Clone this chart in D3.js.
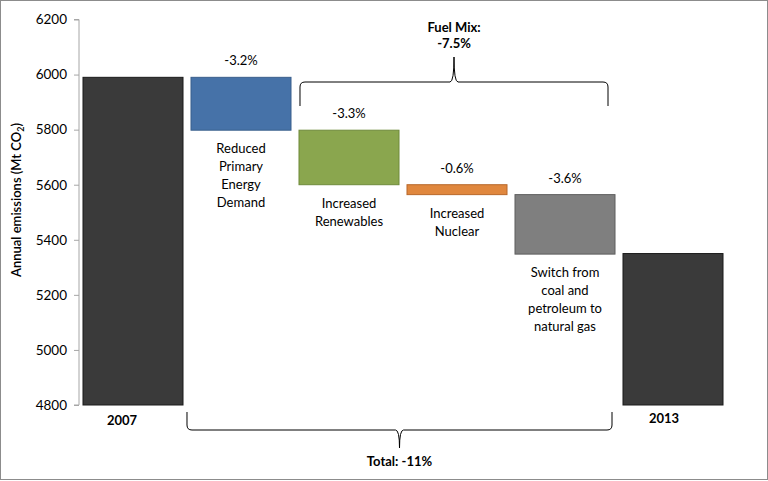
<!DOCTYPE html>
<html><head><meta charset="utf-8">
<script src="https://cdn.jsdelivr.net/npm/d3@7"></script>
<style>body{margin:0;background:#fff}svg{display:block}text{font-family:Lato,"Open Sans",sans-serif;fill:#000}</style>
</head><body>
<svg id="c" width="768" height="481"></svg>
<script>
const categories = ["2007","Reduced Primary Energy Demand","Increased Renewables","Increased Nuclear","Switch from coal and petroleum to natural gas","2013"];
const labelLines = [["2007"],["Reduced","Primary","Energy","Demand"],["Increased","Renewables"],["Increased","Nuclear"],["Switch from","coal and","petroleum to","natural gas"],["2013"]];
const barStart = [4800, 5990, 5798, 5600, 5564, 4800];
const barEnd   = [5990, 5798, 5600, 5564, 5348, 5350];
const pctLabels = ["", "-3.2%", "-3.3%", "-0.6%", "-3.6%", ""];
const colors = ["#3a3a3a","#4672a8","#8aa64e","#e0873e","#7f7f7f","#3a3a3a"];
const strokes = ["#1a1a1a","#3a5f8c","#6e8a3a","#b8672a","#5e5e5e","#1a1a1a"];
const yTicks = [4800,5000,5200,5400,5600,5800,6000,6200];
const fuelMixLabel = ["Fuel Mix:","-7.5%"];
const totalLabel = "Total: -11%";

const svg = d3.select("#c");
svg.append("rect").attr("x",0.5).attr("y",0.5).attr("width",767).attr("height",479).attr("fill","#fff").attr("stroke","#8c8c8c");

const y = d3.scaleLinear().domain([4800,6200]).range([405,19.5]);
const x = d3.scaleBand().domain(categories).range([79,727]).paddingInner(0.074).paddingOuter(0.037);

// axis
const ax = svg.append("g").attr("transform","translate(79,0)")
  .call(d3.axisLeft(y).tickValues(yTicks).tickSize(5).tickPadding(7).tickFormat(d3.format("d")));
ax.selectAll("path,line").attr("stroke","#a6a6a6");
ax.select(".domain").attr("d","M-5,"+y(6200)+"H0V"+y(4800)+"H-5");
ax.selectAll("text").style("font-family","Lato,sans-serif").style("font-size","13.5px").attr("fill","#000");

// y label
const yl = svg.append("text").attr("transform","translate(21,200) rotate(-90)").attr("text-anchor","middle")
  .style("font-size","13px").style("font-weight","600");
yl.append("tspan").text("Annual emissions (Mt CO");
yl.append("tspan").text("2").attr("dy",3).style("font-size","9px");
yl.append("tspan").text(")").attr("dy",-3);

// bars
categories.forEach((c,i)=>{
  const top = y(Math.max(barStart[i],barEnd[i])), bot = y(Math.min(barStart[i],barEnd[i]));
  svg.append("rect").attr("x",x(c)).attr("y",top).attr("width",x.bandwidth()).attr("height",bot-top)
    .attr("fill",colors[i]).attr("stroke",strokes[i]).attr("stroke-width",1);
  const cx = x(c)+x.bandwidth()/2;
  if (pctLabels[i]) {
    svg.append("text").attr("x",cx).attr("y",top-12).attr("text-anchor","middle").style("font-size","13px").text(pctLabels[i]);
  }
  if (i===0 || i===categories.length-1) {
    svg.append("text").attr("x",cx-(i===0?11:9)).attr("y",y(4800)+(i===0?20:18)).attr("text-anchor","middle")
      .style("font-size","13px").style("font-weight","bold").text(labelLines[i][0]);
  } else {
    const t = svg.append("text").attr("text-anchor","middle").style("font-size","13px");
    labelLines[i].forEach((l,k)=>t.append("tspan").attr("x",cx).attr("y",bot+23+k*18).text(l));
  }
});

// braces
function brace(x1,x2,yb,ytip,yend){
  const xm=(x1+x2)/2, s = ytip<yb?-1:1, r=5;
  return `M${x1},${yend} L${x1},${yb-s*r} Q${x1},${yb} ${x1+r},${yb} L${xm-4},${yb} Q${xm},${yb} ${xm},${ytip} Q${xm},${yb} ${xm+4},${yb} L${x2-r},${yb} Q${x2},${yb} ${x2},${yb-s*r} L${x2},${yend}`;
}
const x1f = x(categories[2])+1, x2f = x(categories[4])+x.bandwidth()-7;
svg.append("path").attr("d",brace(x1f,x2f,82,57,106)).attr("fill","none").attr("stroke","#000").attr("stroke-width",1);
const fm = svg.append("text").attr("text-anchor","middle").style("font-size","13px").style("font-weight","bold");
fuelMixLabel.forEach((l,k)=>fm.append("tspan").attr("x",(x1f+x2f)/2).attr("y",32+k*16).text(l));

const x1t = x(categories[1])-4, x2t = x(categories[4])+x.bandwidth()-3;
svg.append("path").attr("d",brace(x1t,x2t,430,448,412)).attr("fill","none").attr("stroke","#000").attr("stroke-width",1);
svg.append("text").attr("x",(x1t+x2t)/2).attr("y",466).attr("text-anchor","middle").style("font-size","13px").style("font-weight","bold").text(totalLabel);
</script>
</body></html>
